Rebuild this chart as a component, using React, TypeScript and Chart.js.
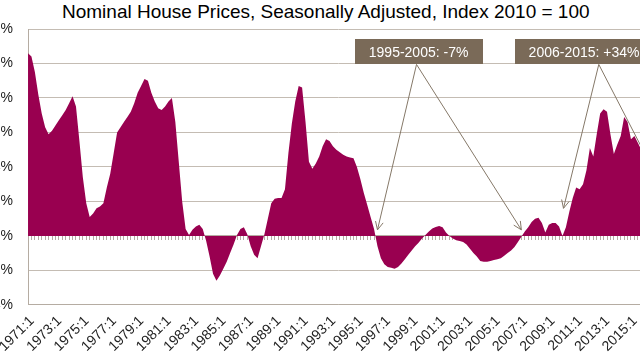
import React, { useEffect, useRef } from 'react';
import { Chart, registerables } from 'chart.js';

Chart.register(...registerables);

// ---------- data ----------
const titleText = 'Nominal House Prices, Seasonally Adjusted, Index 2010 = 100';
const firstYear = 1971;
const quarterCount = 182; // 1971:1 .. 2016:2
const quarterLabels: string[] = Array.from(
  { length: quarterCount },
  (_, i) => `${firstYear + Math.floor(i / 4)}:${(i % 4) + 1}`
);
const shownTickLabels = [
  '1971:1', '1973:1', '1975:1', '1977:1', '1979:1', '1981:1', '1983:1', '1985:1',
  '1987:1', '1989:1', '1991:1', '1993:1', '1995:1', '1997:1', '1999:1', '2001:1',
  '2003:1', '2005:1', '2007:1', '2009:1', '2011:1', '2013:1', '2015:1',
];
const yTicksMin = -4;
const yTicksMax = 12;
const yTickStep = 2;

// year-on-year change, %
const priceChange = [
  10.6, 10.4, 9.5, 8.2, 7.1, 6.3, 5.9, 6.1, 6.4, 6.7,
  7.0, 7.3, 7.7, 8.1, 7.5, 5.5, 3.4, 1.9, 1.1, 1.3,
  1.6, 1.7, 1.9, 2.8, 3.6, 4.8, 6.0, 6.3, 6.6, 6.9,
  7.2, 7.7, 8.3, 8.7, 9.1, 9.0, 8.3, 7.8, 7.4, 7.3,
  7.5, 7.8, 8.0, 6.6, 4.3, 2.0, 0.4, 0.05, 0.35, 0.55,
  0.65, 0.4, -0.3, -1.2, -2.2, -2.6, -2.3, -1.9, -1.5, -1.0,
  -0.5, 0.05, 0.4, 0.5, 0.1, -0.6, -1.1, -1.3, -0.6, 0.1,
  1.0, 1.9, 2.15, 2.2, 2.2, 2.7, 4.8, 6.5, 7.8, 8.7,
  8.6, 6.6, 4.3, 3.9, 4.2, 4.6, 5.2, 5.6, 5.5, 5.2,
  5.0, 4.85, 4.7, 4.6, 4.55, 4.5, 4.0, 3.3, 2.5, 1.8,
  1.1, 0.4, -0.6, -1.3, -1.65, -1.8, -1.85, -1.9, -1.8, -1.6,
  -1.35, -1.1, -0.85, -0.6, -0.4, -0.15, 0.05, 0.25, 0.43, 0.52,
  0.58, 0.5, 0.2, 0.0, -0.15, -0.25, -0.3, -0.35, -0.5, -0.75,
  -1.0, -1.2, -1.45, -1.5, -1.5, -1.45, -1.4, -1.35, -1.3, -1.15,
  -1.0, -0.85, -0.64, -0.35, -0.05, 0.25, 0.5, 0.8, 1.0, 1.05,
  0.75, 0.2, 0.65, 0.75, 0.75, 0.55, 0.0, 0.5, 1.4, 2.2,
  2.8, 2.7, 3.0, 3.8, 5.1, 4.6, 5.9, 7.1, 7.35, 7.2,
  5.9, 4.75, 5.3, 5.8, 6.9, 6.6, 5.6, 5.8, 5.4, 5.0,
  4.8, 4.6,
];

// annotations (in data coordinates: category index, value)
const noteTexts = ['1995-2005: -7%', '2006-2015: +34%'];
const noteCenterIndex = [114.0, 162.3];
const noteCenterValue = [10.67, 10.67];
const noteArrowOriginIndex = [113.4, 166.6];
const noteArrowTipIndex = [[102, 144], [156.3, 181]];
const noteArrowTipValue = [[0.35, 0.35], [1.6, 4.4]];

// ---------- styles ----------
const areaColor = '#990050';
const gridColor = '#c4bcb3';
const axisColor = '#b5aca2';
const noteFill = '#7a6a58';
const arrowColor = '#857868';
const labelFont = '"Liberation Sans", Arial, sans-serif';

const notesPlugin = {
  id: 'notes',
  afterDraw(chart: any) {
    const { ctx } = chart;
    const x = chart.scales.x;
    const y = chart.scales.y;
    ctx.save();
    ctx.font = `14px ${labelFont}`;
    const boxH = 25;
    const padX = 14;
    // arrows
    noteTexts.forEach((t, k) => {
      const cy = y.getPixelForValue(noteCenterValue[k]);
      const ox = x.getPixelForValue(noteArrowOriginIndex[k]);
      const oy = cy + boxH / 2;
      noteArrowTipIndex[k].forEach((ti, j) => {
        const tx = x.getPixelForValue(ti);
        const ty = y.getPixelForValue(noteArrowTipValue[k][j]);
        ctx.strokeStyle = arrowColor;
        ctx.lineWidth = 1;
        ctx.beginPath();
        ctx.moveTo(ox, oy);
        ctx.lineTo(tx, ty);
        ctx.stroke();
        const ang = Math.atan2(ty - oy, tx - ox);
        const len = 9;
        const spread = 0.45;
        ctx.beginPath();
        ctx.moveTo(tx - len * Math.cos(ang - spread), ty - len * Math.sin(ang - spread));
        ctx.lineTo(tx, ty);
        ctx.lineTo(tx - len * Math.cos(ang + spread), ty - len * Math.sin(ang + spread));
        ctx.stroke();
      });
    });
    // boxes
    noteTexts.forEach((t, k) => {
      const cx = x.getPixelForValue(noteCenterIndex[k]);
      const cy = y.getPixelForValue(noteCenterValue[k]);
      const w = ctx.measureText(t).width + padX * 2;
      ctx.fillStyle = noteFill;
      ctx.fillRect(Math.round(cx - w / 2), Math.round(cy - boxH / 2), Math.round(w), boxH);
      ctx.fillStyle = '#ffffff';
      ctx.textAlign = 'center';
      ctx.textBaseline = 'middle';
      ctx.fillText(t, cx, cy + 1);
    });
    ctx.restore();
  },
};

function HousePriceChart() {
  const canvasRef = useRef<HTMLCanvasElement | null>(null);

  useEffect(() => {
    if (!canvasRef.current) return;
    const chart = new Chart(canvasRef.current, {
      type: 'line',
      data: {
        labels: quarterLabels,
        datasets: [
          {
            data: priceChange,
            xAxisID: 'x',
            yAxisID: 'y',
            backgroundColor: areaColor,
            borderColor: areaColor,
            borderWidth: 0,
            pointRadius: 0,
            fill: 'origin',
            tension: 0,
          },
        ],
      },
      options: {
        responsive: false,
        animation: false,
        devicePixelRatio: 1,
        layout: { padding: { top: 29, bottom: 2, left: 0, right: 8 } },
        plugins: {
          legend: { display: false },
          tooltip: { enabled: false },
          title: { display: false },
        },
        scales: {
          x: {
            type: 'category',
            position: 'bottom',
            offset: false,
            grid: { display: false, drawTicks: false },
            border: { display: true, color: axisColor },
            ticks: {
              autoSkip: false,
              maxRotation: 45,
              minRotation: 45,
              padding: 8,
              labelOffset: 4,
              color: '#222',
              font: { family: labelFont, size: 14 },
              callback: (_v: any, i: number) =>
                shownTickLabels.includes(quarterLabels[i]) ? quarterLabels[i] : '',
            },
          },
          x2: {
            type: 'category',
            axis: 'x',
            position: { y: 0 },
            offset: false,
            grid: {
              display: true,
              drawOnChartArea: false,
              drawTicks: true,
              tickLength: 4,
              color: axisColor,
            },
            border: { display: true, color: axisColor },
            ticks: { display: false, autoSkip: false },
          },
          y: {
            type: 'linear',
            min: yTicksMin,
            max: yTicksMax,
            grid: { color: gridColor, drawTicks: false },
            border: { display: true, color: axisColor },
            ticks: {
              stepSize: yTickStep,
              padding: 15,
              color: '#222',
              font: { family: labelFont, size: 14 },
              callback: (v: any) => `${v}%`,
            },
          },
        },
      },
      plugins: [notesPlugin],
    } as any);
    return () => chart.destroy();
  }, []);

  return (
    <div
      style={{
        position: 'fixed',
        left: 0,
        top: 0,
        width: 640,
        height: 360,
        overflow: 'hidden',
        background: '#ffffff',
      }}
    >
      <div
        style={{
          position: 'absolute',
          left: 62,
          top: 2,
          whiteSpace: 'nowrap',
          fontFamily: '"Liberation Sans", Arial, sans-serif',
          fontSize: 19,
          lineHeight: '19px',
          color: '#000',
        }}
      >
        {titleText}
      </div>
      <canvas
        ref={canvasRef}
        width={698}
        height={365}
        style={{ position: 'absolute', left: -30, top: 0, width: 698, height: 365 }}
      />
    </div>
  );
}

export default function App() {
  return <HousePriceChart />;
}
